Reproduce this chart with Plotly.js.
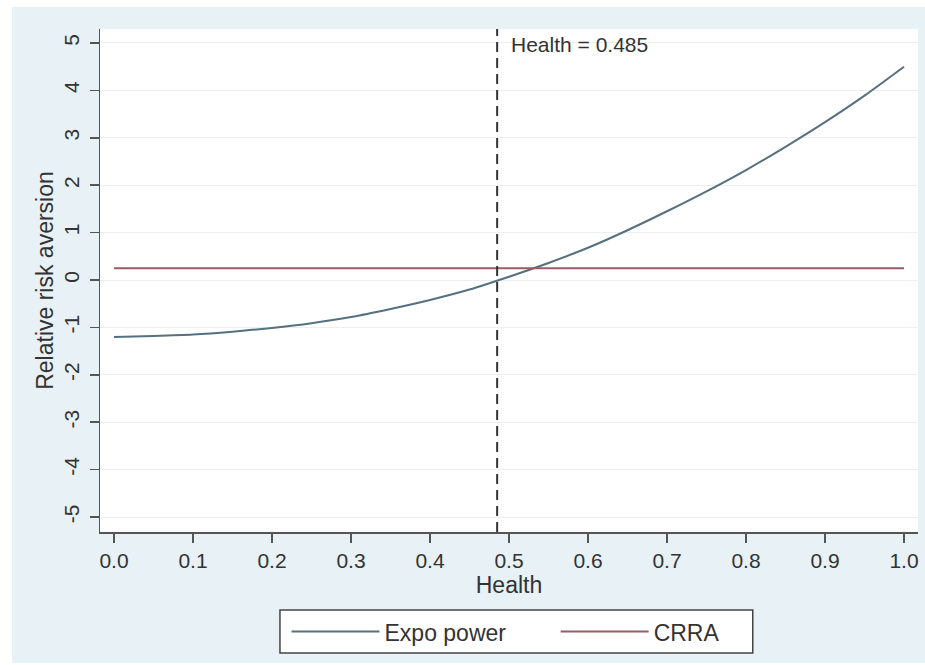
<!DOCTYPE html>
<html>
<head>
<meta charset="utf-8">
<script src="https://cdn.plot.ly/plotly-3.0.1.min.js"></script>
<style>
  html, body { margin: 0; padding: 0; background: #ffffff; }
  #chart { position: absolute; left: 12px; top: 7px; width: 913px; height: 656px; }
</style>
</head>
<body>
<div id="chart"></div>
<script>
// Health grid and relative risk aversion under the two utility forms
const health = [0.00, 0.05, 0.10, 0.15, 0.20, 0.25, 0.30, 0.35, 0.40, 0.45, 0.50,
                0.55, 0.60, 0.65, 0.70, 0.75, 0.80, 0.85, 0.90, 0.95, 1.00];
const expoPower = [-1.20, -1.18, -1.15, -1.09, -1.01, -0.91, -0.78, -0.61, -0.42, -0.20, 0.07,
                   0.36, 0.68, 1.05, 1.45, 1.87, 2.32, 2.81, 3.33, 3.89, 4.50];
const crra = [0.25, 0.25, 0.25, 0.25, 0.25, 0.25, 0.25, 0.25, 0.25, 0.25, 0.25,
              0.25, 0.25, 0.25, 0.25, 0.25, 0.25, 0.25, 0.25, 0.25, 0.25];
const healthMark = 0.485;
const xTicks = [0.0, 0.1, 0.2, 0.3, 0.4, 0.5, 0.6, 0.7, 0.8, 0.9, 1.0];
const xTickText = ['0.0', '0.1', '0.2', '0.3', '0.4', '0.5', '0.6', '0.7', '0.8', '0.9', '1.0'];
const yTicks = [-5, -4, -3, -2, -1, 0, 1, 2, 3, 4, 5];
const yTickText = ['-5', '-4', '-3', '-2', '-1', '0', '1', '2', '3', '4', '5'];

const family = 'Liberation Sans, Arial, sans-serif';
const tickFont = { family: family, size: 21, color: '#333333' };
const titleFont = { family: family, size: 23, color: '#333333' };
const legendFont = { family: family, size: 23, color: '#333333' };

const traces = [
  {
    x: health, y: expoPower, name: 'Expo power', type: 'scatter', mode: 'lines',
    line: { color: '#56707f', width: 2, shape: 'spline', smoothing: 0.6 },
    legend: 'legend'
  },
  {
    x: health, y: crra, name: 'CRRA', type: 'scatter', mode: 'lines',
    line: { color: '#9a5c64', width: 2 },
    legend: 'legend2'
  }
];

const axisCommon = {
  showline: true, linecolor: '#555555', linewidth: 1.5,
  ticks: 'outside', ticklen: 9, tickwidth: 1.5, tickcolor: '#555555',
  zeroline: false, tickfont: tickFont, mirror: false
};

// One legend entry per trace, sharing a single framed box drawn below them
const legendCommon = {
  orientation: 'h', xanchor: 'left', yanchor: 'middle', y: -0.198,
  bgcolor: 'rgba(0,0,0,0)', borderwidth: 0, itemwidth: 88, font: legendFont
};

const layout = {
  width: 913, height: 656,
  margin: { l: 88, r: 7, t: 22, b: 131 },
  paper_bgcolor: '#e8f1f6',
  plot_bgcolor: '#ffffff',
  font: tickFont,
  showlegend: true,
  xaxis: Object.assign({}, axisCommon, {
    range: [-0.0177, 1.0177],
    tickvals: xTicks, ticktext: xTickText,
    showgrid: false,
    title: { text: 'Health', font: titleFont, standoff: 1 }
  }),
  yaxis: Object.assign({}, axisCommon, {
    range: [-5.316, 5.295],
    tickvals: yTicks, ticktext: yTickText, tickangle: -90,
    ticklabelstandoff: 2,
    showgrid: true, gridcolor: '#eceef0', gridwidth: 1,
    title: { text: 'Relative risk aversion', font: titleFont, standoff: 0 }
  }),
  shapes: [
    {
      type: 'line', xref: 'x', yref: 'paper',
      x0: healthMark, x1: healthMark, y0: 0, y1: 1,
      line: { color: '#333333', width: 2, dash: '10px,6px' }
    },
    {
      type: 'rect', xref: 'paper', yref: 'paper', layer: 'below',
      x0: 0.220, x1: 0.798, y0: -0.155, y1: -0.2406,
      fillcolor: '#ffffff', line: { color: '#444444', width: 1.5 }
    }
  ],
  annotations: [
    {
      xref: 'x', yref: 'y', x: healthMark, y: 5,
      text: 'Health = ' + healthMark, showarrow: false,
      xanchor: 'left', yanchor: 'middle', xshift: 12, yshift: -2,
      font: tickFont
    }
  ],
  legend: Object.assign({}, legendCommon, { x: 0.228 }),
  legend2: Object.assign({}, legendCommon, { x: 0.557 })
};

Plotly.newPlot('chart', traces, layout, { displayModeBar: false, staticPlot: true });
</script>
</body>
</html>
